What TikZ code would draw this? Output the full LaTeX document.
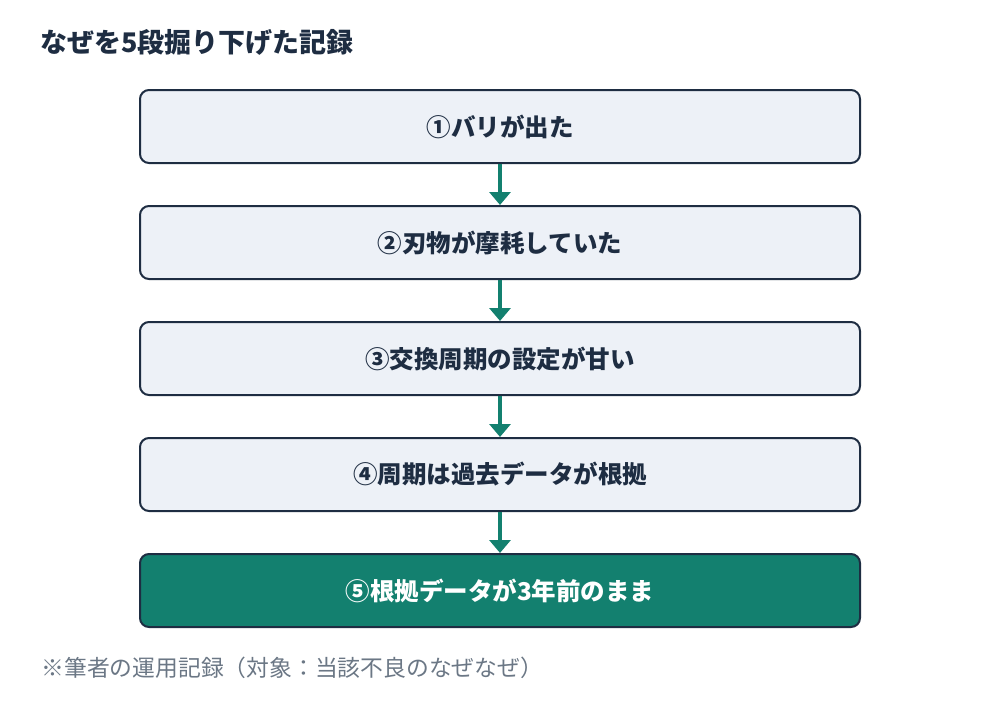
\documentclass[tikz,border=0pt]{standalone}
\usepackage{fontspec}
\setmainfont{Noto Sans CJK JP}
\usetikzlibrary{arrows.meta}
\definecolor{navy}{HTML}{1E2D42}
\definecolor{boxfill}{HTML}{EDF1F7}
\definecolor{teal}{HTML}{13806F}
\definecolor{note}{HTML}{6B7785}
\tikzset{
  stepbox/.style={draw=navy, line width=2pt, fill=boxfill, rounded corners=9pt,
    minimum width=720pt, minimum height=73pt, inner sep=0pt, text=navy,
    font=\fontsize{24.5pt}{28pt}\selectfont\bfseries},
  lastbox/.style={stepbox, fill=teal, text=white},
  flow/.style={draw=teal, line width=4pt, -{Triangle[width=21pt,length=13pt]}, shorten >=0pt}
}
\begin{document}
\begin{tikzpicture}[x=1pt,y=-1pt]
\useasboundingbox (0,0) rectangle (1000,718);
\node[anchor=west, text=navy, font=\fontsize{27pt}{30pt}\selectfont\bfseries] (title) at (37,42) {なぜを5段掘り下げた記録};
\node[stepbox] (s1) at (500,126.5) {①バリが出た};
\node[stepbox] (s2) at (500,242.5) {②刃物が摩耗していた};
\node[stepbox] (s3) at (500,358.5) {③交換周期の設定が甘い};
\node[stepbox] (s4) at (500,474.5) {④周期は過去データが根拠};
\node[lastbox] (s5) at (500,590.5) {⑤根拠データが3年前のまま};
\foreach \a/\b in {s1/s2,s2/s3,s3/s4,s4/s5}
  \draw[flow] (\a.south) -- (\b.north);
\node[anchor=west, text=note, font=\fontsize{22.8pt}{26pt}\selectfont] (foot) at (38,668) {※筆者の運用記録（対象：当該不良のなぜなぜ）};
\end{tikzpicture}
\end{document}
